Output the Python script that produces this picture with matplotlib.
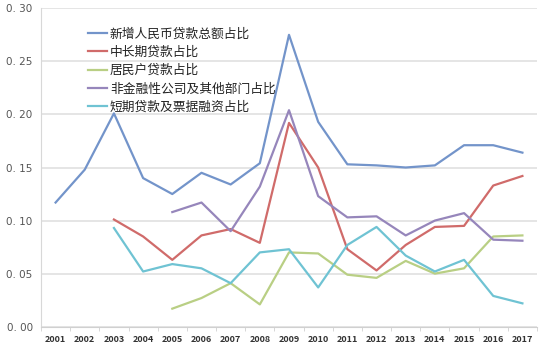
import numpy as np
import matplotlib
matplotlib.use('Agg')
import matplotlib.pyplot as plt

plt.rcParams['font.family'] = ['Noto Sans CJK SC', 'DejaVu Sans']

years = [str(y) for y in range(2001, 2018)]
total = [0.117, 0.148, 0.201, 0.140, 0.125, 0.145, 0.134, 0.154, 0.275, 0.193,
         0.153, 0.152, 0.150, 0.152, 0.171, 0.171, 0.164]
long_term = [None, None, 0.101, 0.085, 0.063, 0.086, 0.092, 0.079, 0.192, 0.150,
             0.073, 0.053, 0.077, 0.094, 0.095, 0.133, 0.142]
household = [None, None, None, None, 0.017, 0.027, 0.041, 0.021, 0.070, 0.069,
             0.049, 0.046, 0.062, 0.050, 0.055, 0.085, 0.086]
corporate = [None, None, None, None, 0.108, 0.117, 0.090, 0.132, 0.204, 0.123,
             0.103, 0.104, 0.086, 0.100, 0.107, 0.082, 0.081]
short_term = [None, None, 0.093, 0.052, 0.059, 0.055, 0.041, 0.070, 0.073, 0.037,
              0.077, 0.094, 0.067, 0.052, 0.063, 0.029, 0.022]

labels = ['新增人民币贷款总额占比', '中长期贷款占比', '居民户贷款占比',
          '非金融性公司及其他部门占比', '短期贷款及票据融资占比']
colors = ['#7394CA', '#D06B6A', '#B9CF84', '#9686BB', '#6FC3D3']
series = [total, long_term, household, corporate, short_term]

fig = plt.figure(figsize=(5.54, 3.56), dpi=100)
ax = fig.add_axes([41/554, 1-326.7/356, 496/554, 318.4/356])

x = np.arange(len(years))
for vals, lab, c in zip(series, labels, colors):
    v = np.array([np.nan if a is None else a for a in vals], dtype=float)
    ax.plot(x, v, color=c, lw=1.6, label=lab)

ax.set_xlim(-0.5, len(years) - 0.5)
ax.set_ylim(0, 0.30)
yt = np.arange(0, 0.301, 0.05)
ax.set_yticks(yt)
ax.set_yticklabels(['0. %02d' % round(t * 100) for t in yt], color='#555555',
                   fontsize=7.5, family='DejaVu Sans')
ax.set_xticks(x)
ax.set_xticklabels(years, fontsize=6.5, fontweight='bold', color='#333333')
ax.set_xticks(np.arange(-0.5, len(years)), minor=True)
ax.tick_params(axis='x', which='major', length=0, pad=6)
ax.tick_params(axis='x', which='minor', length=3, color='#d0d0d0')
ax.tick_params(axis='y', length=0, pad=6)
ax.yaxis.grid(True, color='#e0e0e0', lw=1.2)
ax.set_axisbelow(True)
for s in ['top', 'right']:
    ax.spines[s].set_visible(False)
ax.spines['left'].set_color('#d8d8d8')
ax.spines['bottom'].set_color('#d0d0d0')

leg = ax.legend(loc='upper left', bbox_to_anchor=(0.095, 0.94), frameon=False,
                fontsize=9.2, handlelength=1.5, handletextpad=0.2,
                labelspacing=0.42, borderpad=0, borderaxespad=0)
for t in leg.get_texts():
    t.set_color('#222222')

fig.savefig('out.png', dpi=100)
